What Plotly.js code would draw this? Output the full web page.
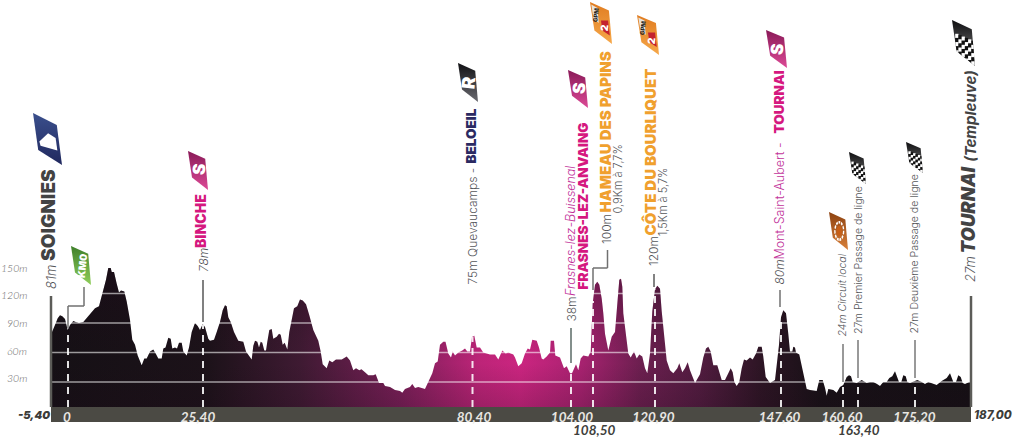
<!DOCTYPE html>
<html><head><meta charset="utf-8">
<script src="https://cdn.plot.ly/plotly-3.0.1.min.js"></script>
<style>html,body{margin:0;padding:0;background:#fff}#c{width:1024px;height:438px}</style>
</head><body><div id="c"></div>
<script>
// Profile: position along the drawn baseline, elevation in metres
const profilePos=[51,51.7,55,57.7,60,62.3,65,67.7,70,73.3,75.7,79,83.3,86.7,91.7,95,99,101,103.3,106,108.3,110.7,111.7,114,116.7,119,121,124.3,126.7,130,132.3,135,137.7,141.7,144.3,146.7,150,153.3,155.7,158.3,161.7,163.3,165.5,168.3,170.7,172.3,175,177,179,181.7,183.3,186.7,189,191.7,195,197.7,200,202.7,205,208.3,210,214,216.7,220,222.7,225,226.7,228.3,230.7,234,238.3,243.3,246,249.3,251.7,253.3,255,257.3,259,260.7,262.3,264.3,266,267.3,269.3,271.7,273.3,276.7,279,280.7,282.7,284.7,287.3,289.3,291.7,294,297.3,300,302.7,306,309.3,313.3,318.3,320.7,322.7,326.7,329.3,332.3,336,341.7,346.7,350,353.3,356,359.3,361.5,365,368.3,373.3,375.7,379,383.3,385,390,395,400,402.3,405,410,412.3,415,418.3,425,428.3,432.3,435,437.7,440,443.3,445.5,448.3,451,452.7,455,458.3,462.3,465,467.3,470,472,474.3,476.7,480,483.3,490,495,498.3,502.3,505.7,508.3,513.3,515,518.3,521.7,525,527.7,530,532.3,536.7,539,541.7,543.3,546.7,550,550.7,554,555.3,560,564,566.7,570,572,576,578.3,580.7,583.3,588.3,590.7,592.7,595,597.3,599.3,601.7,603.3,605,608.3,611.7,615,617.3,619.3,621,622.3,623.3,626,628.3,630.7,634,636.7,639.3,642.3,645,647.3,650,652.3,655,657.3,660,661.7,664,666.7,670,673.3,677.3,679.3,682.3,685,687.7,690,695,700,703.3,706,708.3,710.7,713.3,717.3,721.7,725,728.3,730.7,732.7,734.3,736.7,739.3,741.7,744,746.7,750,752.7,756,758.3,761.7,763.3,765.7,770,775,779,781,783.3,786,788.3,790,792.3,793.3,795,796,799.3,801.7,804,806.7,810,816.7,819.3,822.7,825,826.7,828.3,833.3,836.7,840,843.3,846.7,849,851,852.7,856.7,861.7,866.7,870,873.3,877,880,883.3,886.7,889.3,892.3,895,896.7,899,901.3,903.3,905.7,907.3,910,917.3,921.7,925,928.3,931.7,936.7,941.7,946.7,950,951.7,953.3,956,958.3,960.7,962.7,965,967,969.3,971];
const profileElev=[80,80,88,95,98,97,94,83,88,92,91,90,91,95,100,105,107,115,122,134,146,146,142,142,130,121,123,122,112,93,73,68,57,47,54,54,61,63,59,54,54,64,65,75,74,64,65,64,70,70,61,57,65,81,90,87,83,89,86,74,72,73,81,91,103,108,107,96,91,81,72,71,61,57,53,67,72,71,65,71,70,62,62,71,83,84,74,76,79,78,68,70,63,81,93,105,107,114,113,109,98,83,72,61,48,44,52,50,53,53,56,52,42,44,42,43,40,37,37,38,29,29,26,25,22,21,19,23,25,28,24,25,23,31,39,49,51,68,71,71,59,55,61,57,60,62,64,61,61,76,77,65,65,60,58,58,53,62,59,60,58,55,46,49,59,64,63,73,72,65,54,53,56,60,72,72,57,55,44,46,39,39,48,42,54,57,56,61,110,129,132,129,115,100,79,62,76,81,110,134,135,127,100,79,59,55,61,54,58,56,44,39,59,102,124,128,125,102,79,52,42,39,44,49,40,44,50,42,29,38,55,64,66,61,47,47,32,32,39,44,40,30,26,30,44,53,52,55,53,59,66,66,56,35,29,32,68,96,103,100,79,61,61,66,65,60,58,46,34,23,22,21,32,32,24,16,23,22,19,25,27,35,37,36,30,29,32,29,30,30,28,26,30,30,34,36,41,37,30,30,37,36,30,29,32,30,28,30,29,27,31,34,39,35,30,30,37,35,29,28,29,30,29];

const gridLevels=[30,60,90,120];
const yTickLabels=['30m','60m','90m','120m','150m'];
const yTickValues=[30,60,90,120,150];

const stationPos=[68,203,472.5,571,593,655,781,843,858,915];
const stationLabelPos=[67,198,474,572,594,653.5,779.5,842,858.5,914.5];
const stationKm=['0','25,40','80,40','104,00','108,50','120,90','147,60','160,60','163,40','175,20'];
const stationLowRow=[false,false,false,false,true,false,false,false,true,false];
const startKm='-5,40', finishKm='187,00';

const W=1024,H=438,L=51,R=971,B=407;
const SANS='Inter, "Open Sans", sans-serif';
const NARROW='Lato, "Open Sans", sans-serif';
const HEAVY='Inter, "Open Sans", sans-serif';
const GREY='#55565a', MAG='#d5187f', ORA='#f0a02e', NAVY='#2b2a62', DK='#434343';
const px=x=>(x-L)/(R-L), py=y=>(B-y)/B;

function elevAt(p){for(let i=1;i<profilePos.length;i++){if(p<=profilePos[i]){const a=profilePos[i-1],b=profilePos[i];return profileElev[i-1]+(profileElev[i]-profileElev[i-1])*(p-a)/(b-a);}}return profileElev[profileElev.length-1];}

const data=[];
data.push({x:profilePos,y:profileElev,type:'scatter',mode:'lines',line:{width:0,color:'rgba(0,0,0,0)'},fill:'tozeroy',
 fillgradient:{type:'horizontal',start:51,stop:971,colorscale:[[0,'#151015'],[0.17,'#1c1219'],[0.27,'#3e1a32'],[0.38,'#7a1f58'],[0.466,'#bd2478'],[0.51,'#cb2580'],[0.576,'#a82270'],[0.64,'#6d1f50'],[0.705,'#521c40'],[0.77,'#2e1525'],[0.836,'#171116'],[1,'#141014']]},hoverinfo:'skip',showlegend:false});
data.push({x:profilePos,y:profileElev,type:'scatter',mode:'lines',line:{width:0,color:'rgba(0,0,0,0)'},fill:'tozeroy',
 fillgradient:{type:'vertical',start:0,stop:150,colorscale:[[0,'rgba(30,10,25,0.22)'],[0.33,'rgba(30,10,25,0)'],[0.5,'rgba(30,10,25,0.05)'],[1,'rgba(30,10,25,0.4)']]},hoverinfo:'skip',showlegend:false});
gridLevels.forEach(g=>data.push({x:[L,R],y:[g,g],type:'scatter',mode:'lines',line:{color:'rgba(255,255,255,0.58)',width:1.6},hoverinfo:'skip',showlegend:false}));
stationPos.forEach(p=>data.push({x:[p,p],y:[4.6,elevAt(p)],type:'scatter',mode:'lines',line:{color:'rgba(255,255,255,0.88)',width:2,dash:'7px,6px'},hoverinfo:'skip',showlegend:false}));

const ann=[];
function vt(x,yb,text,o){o=o||{};ann.push({xref:'paper',yref:'paper',x:px(x),y:py(yb),text:text,textangle:-90,showarrow:false,xanchor:'center',yanchor:'bottom',borderpad:0,
 font:{family:o.heavy?HEAVY:SANS,size:o.size||12,color:o.color||GREY,weight:o.weight||(o.heavy?800:300),style:o.italic?'italic':'normal'}});}
function ht(x,y,text,o){o=o||{};ann.push({xref:'paper',yref:'paper',x:px(x),y:py(y),text:text,showarrow:false,xanchor:o.anchor||'center',yanchor:'middle',borderpad:0,
 font:{family:o.family||NARROW,size:o.size||13,color:o.color||GREY,weight:o.weight||400,style:o.italic===false?'normal':'italic'}});}

// y axis labels sit on the reference's slightly compressed scale
const yLabelPx=[378,350.5,323,295,268];
yTickLabels.forEach((t,i)=>ht(27.5,yLabelPx[i],t,{anchor:'right',size:10.5,color:'#6a6a6a',weight:300}));

// km labels outside of the axis row
ht(34,415,startKm,{size:11,color:'#3c3c3a',weight:900,family:HEAVY});
ht(994,415,finishKm,{size:11.5,color:'#3c3c3a',weight:800,family:HEAVY});
stationLabelPos.forEach((p,i)=>{if(stationLowRow[i])ht(p,430,stationKm[i],{size:13.5,color:'#3f3f3c',weight:700});});

vt(51,290,'81m',{size:13,italic:true});
vt(48,262,'SOIGNIES',{size:19,heavy:true,color:DK,weight:900});
vt(203,273,'78m',{size:12,italic:true});
vt(200,249,'BINCHE',{size:14,heavy:true,color:MAG,weight:900});
vt(472,286,'75m Quevaucamps -',{size:12});
vt(470,165,'BELOEIL',{size:13.5,heavy:true,color:NAVY,weight:900});
vt(571,323,'38m',{size:12});
vt(570,297,'Frasnes-lez-Buissenal',{size:12.5,color:'#c2339a',italic:true});
vt(582,291,'FRASNES-LEZ-ANVAING',{size:13.5,heavy:true,color:MAG,weight:900});
vt(607,245,'100m',{size:12});
vt(605,214,'HAMEAU DES PAPINS',{size:15,heavy:true,color:ORA,weight:900});
vt(617,215,'0,9Km à 7,7%',{size:11});
vt(653,267,'120m',{size:12});
vt(650,237,'CÔTE DU BOURLIQUET',{size:15,heavy:true,color:ORA,weight:900});
vt(663,237,'1,5Km à 5,7%',{size:11});
vt(779,286,'80m',{size:12,italic:true});
vt(779,261,'Mont-Saint-Aubert -',{size:12.5,color:'#c2339a'});
vt(778,135,'TOURNAI',{size:13.5,heavy:true,color:MAG,weight:900});
vt(842,338,'24m Circuit local',{size:10.5,italic:true});
vt(858,335,'27m Premier Passage de ligne',{size:10.5});
vt(914,335,'27m Deuxième Passage de ligne',{size:10.5});
vt(970,283,'27m',{size:13,italic:true});
vt(967,255,'TOURNAI',{size:18.5,heavy:true,color:DK,weight:900,italic:true});
vt(970,163,'(Templeuve)',{size:15,heavy:true,color:DK,weight:700,italic:true});

// flag lettering
function flagText(x,y,t,size,color,w){ann.push({xref:'paper',yref:'paper',x:px(x),y:py(y),text:t,textangle:-84,showarrow:false,xanchor:'center',yanchor:'middle',borderpad:0,font:{family:HEAVY,size:size,color:color||'#fff',weight:w||900}});}
flagText(199,170,'S',17);flagText(579,89,'S',17);flagText(777,50,'S',17);
flagText(469,83,'R',18);
flagText(82,266,'KM0',10);
flagText(595,15,'GPM',6,'#222',800);flagText(642,28,'GPM',6,'#222',800);
flagText(604,28,'2',10,'#fff',900);flagText(651,41,'2',10,'#fff',900);

// flag artwork
function svg(body,w,h){return 'data:image/svg+xml;utf8,'+encodeURIComponent('<svg xmlns="http://www.w3.org/2000/svg" viewBox="0 0 100 100" preserveAspectRatio="none" width="'+w*4+'" height="'+h*4+'">'+body+'</svg>');}
function grad(id,a,b){return '<defs><linearGradient id="'+id+'" x1="0" y1="0" x2="0" y2="1"><stop offset="0" stop-color="'+a+'"/><stop offset="1" stop-color="'+b+'"/></linearGradient></defs>';}
const OUTER='0,0 86,20 100,100 20,68';
function plainFlag(a,b,extra){return grad('g',a,b)+'<polygon points="'+OUTER+'" fill="url(#g)"/>'+(extra||'');}
function checks(){let s='<clipPath id="k"><polygon points="'+OUTER+'"/></clipPath><g clip-path="url(#k)">';for(let r=0;r<8;r++)for(let c=0;c<6;c++){const x=14+c*14,y=30+r*9+c*3;s+='<rect x="'+x+'" y="'+y+'" width="14" height="9" fill="'+((r+c)%2?'#111':'#fff')+'"/>';}return s+'</g>';}
const images=[];
function flag(x0,y0,x1,y1,body){images.push({source:svg(body,x1-x0,y1-y0),xref:'paper',yref:'paper',x:px(x0),y:py(y0),sizex:(x1-x0)/(R-L),sizey:(y1-y0)/B,sizing:'stretch',xanchor:'left',yanchor:'top',layer:'above'});}
const sFlag=plainFlag('#8a1a58','#dc4a96');
flag(188,151,208,190,sFlag);flag(568,70,588,108,sFlag);flag(766,30,787,68,sFlag);
flag(458,63,478,102,plainFlag('#111114','#6a6a70'));
flag(71,246,91,285,plainFlag('#3e7f2a','#8fce5a'));
const orange=plainFlag('#e07c20','#f6a84a','<polygon points="50,44 82,44 90,80 56,68" fill="#c4222e"/><polygon points="6,6 34,14 40,50 16,40" fill="#e8e4dc"/>');
flag(590,2,612,44,orange);flag(637,15,659,55,orange);
flag(829,212,848,250,plainFlag('#8d4210','#d8803a','<circle cx="54" cy="50" r="23" fill="none" stroke="#fff" stroke-width="7" stroke-dasharray="9 4"/><circle cx="54" cy="50" r="13" fill="#c85f16"/>'));
const ck=grad('g','#0e0e10','#8a8a8a')+'<polygon points="'+OUTER+'" fill="url(#g)"/>'+checks();
flag(849,152,866,184,ck);flag(906,142,923,173,ck);flag(952,20,975,66,ck);
flag(33,113,62,165,grad('g','#3a4f8c','#20285e')+'<polygon points="0,0 82,23 100,100 18,71" fill="url(#g)"/><polygon points="22,55 52,39 78,48 84,72 26,63" fill="#fff"/>');

// leader lines
const shapes=[];
function seg(x0,y0,x1,y1,c,w){shapes.push({type:'line',xref:'paper',yref:'paper',x0:px(x0),y0:py(y0),x1:px(x1),y1:py(y1),line:{color:c||'#707070',width:w||1.5}});}
shapes.push({type:'rect',xref:'paper',yref:'paper',x0:0,x1:1,y0:py(422),y1:0,fillcolor:'#4b4a44',line:{width:0},layer:'below'});
seg(L,296,L,407,'#5c5c58',2.5);seg(R,296,R,407,'#5c5c58',2.5);
seg(84,287,84,306);seg(84,306,68,306);seg(68,306,68,328);
seg(203,280,203,322,'#808080',2);
seg(571,328,571,363,'#5a6a66',1.5);
seg(607.5,250,607.5,268);seg(607.5,268,593,268);seg(593,268,593,290);
seg(654,274,654,287,'#5a5a5a',1.5);
seg(780,290,780,307,'#707070',1.5);
seg(843,344,843,382,'#777',1.5);seg(858,340,858,378,'#777',1.5);seg(915,340,915,378,'#777',1.5);

const layout={width:W,height:H,margin:{l:L,r:W-R,t:0,b:H-B},paper_bgcolor:'#fff',plot_bgcolor:'#fff',showlegend:false,hovermode:false,
 xaxis:{range:[L,R],tickmode:'array',
  tickvals:stationLabelPos.filter((p,i)=>!stationLowRow[i]),ticktext:stationKm.filter((k,i)=>!stationLowRow[i]),
  showgrid:false,zeroline:false,showline:false,ticks:'',tickangle:0,
  tickfont:{family:NARROW,size:13.5,color:'#e8e6e2',weight:700,style:'italic'},fixedrange:true},
 yaxis:{range:[4.6,418.6],tickvals:yTickValues,showticklabels:false,showgrid:false,zeroline:false,showline:false,ticks:'',fixedrange:true},
 annotations:ann,shapes:shapes,images:images};
Plotly.newPlot('c',data,layout,{displayModeBar:false,staticPlot:true});
</script></body></html>
